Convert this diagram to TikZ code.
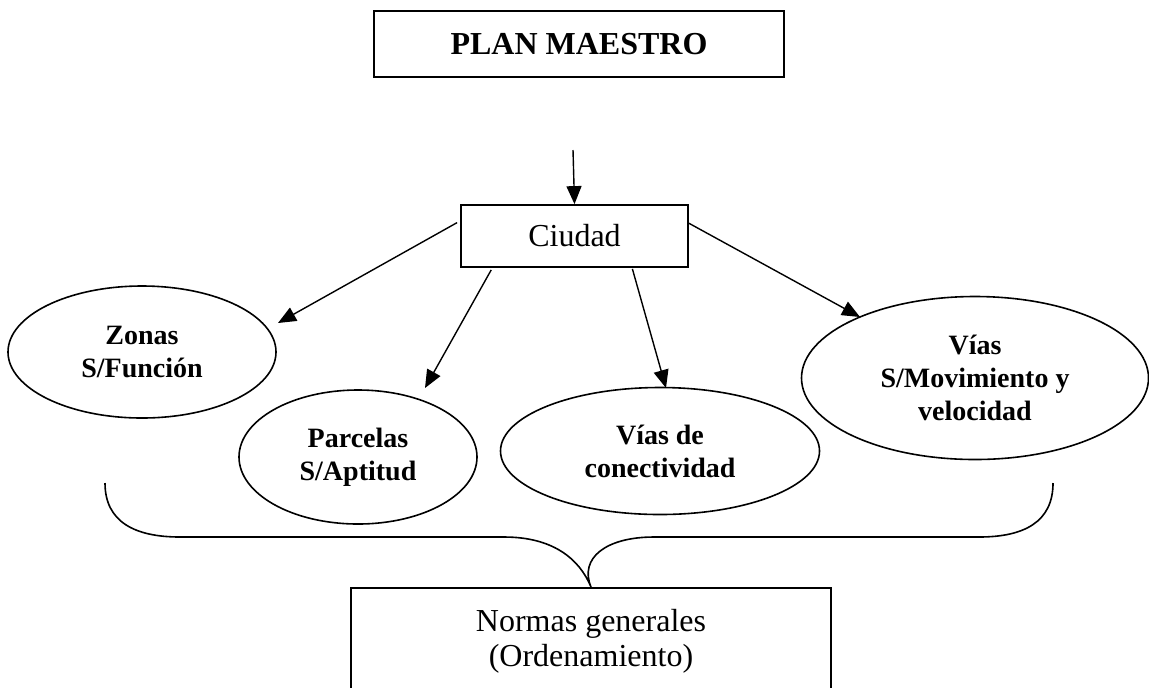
\documentclass[tikz,border=0pt]{standalone}
\usepackage{fontspec}
\setmainfont{Liberation Serif}
\usetikzlibrary{shapes.geometric,arrows.meta,calc}
\begin{document}
\begin{tikzpicture}[x=0.5pt,y=-0.5pt,
  box/.style={draw,line width=0.9pt,inner sep=0pt,align=center},
  oval/.style={ellipse,draw,line width=0.8pt,inner sep=0pt,align=center,font=\bfseries\fontsize{14}{16.5}\selectfont},
  arr/.style={line width=0.7pt,-{Triangle[length=9pt,width=7.5pt]}},
  bracepath/.style={line width=0.8pt}]
\useasboundingbox (0,0) rectangle (1149,687);
\clip (0,0) rectangle (1149,687);
% boxes
\node[box,minimum width=205pt,minimum height=33pt,font=\bfseries\fontsize{16}{19}\selectfont] (plan) at (579,44) {PLAN MAESTRO};
\node[box,minimum width=113.5pt,minimum height=31pt,font=\fontsize{16}{19}\selectfont] (ciu) at (574.5,236) {Ciudad};
\node[box,anchor=north,minimum width=240pt,minimum height=53pt,font=\fontsize{16}{17.5}\selectfont] (nor) at (591,587) {Normas generales\\(Ordenamiento)};
% ellipses
\node[oval,minimum width=134pt,minimum height=66pt] (zon) at (142,352) {Zonas\\S/Función};
\node[oval,minimum width=119pt,minimum height=67pt] (par) at (358,457) {Parcelas\\S/Aptitud};
\node[oval,minimum width=159.5pt,minimum height=63.5pt] (con) at (660,451) {Vías de\\conectividad};
\node[oval,minimum width=173.5pt,minimum height=81.5pt] (mov) at (975,378) {Vías\\S/Movimiento y\\velocidad};
% arrow ends
\coordinate (in) at (573,150);
\coordinate (tz) at (278,323);
\coordinate (tp) at (425,388);
\coordinate (tc) at (666,388);
\coordinate (tm) at (860,317);
\draw[arr] (in) -- (ciu.north);
\draw[arr] ($(ciu.north west)!0.29!(ciu.south west)+(-3,0)$) -- (tz);
\draw[arr] ($(ciu.south west)!0.136!(ciu.south east)+(0,2)$) -- (tp);
\draw[arr] ($(ciu.south west)!0.753!(ciu.south east)+(0,1)$) -- (tc);
\draw[arr] ($(ciu.north east)!0.30!(ciu.south east)$) -- (tm);
% brace
\draw[bracepath] (105,483) .. controls (105,522) and (135,537) .. (180,537) -- (504,537)
  .. controls (552,537) and (579,558) .. (nor.north)
  .. controls (579,558) and (606,537) .. (654,537) -- (979,537)
  .. controls (1024,537) and (1053,522) .. (1053,483);
\end{tikzpicture}
\end{document}
